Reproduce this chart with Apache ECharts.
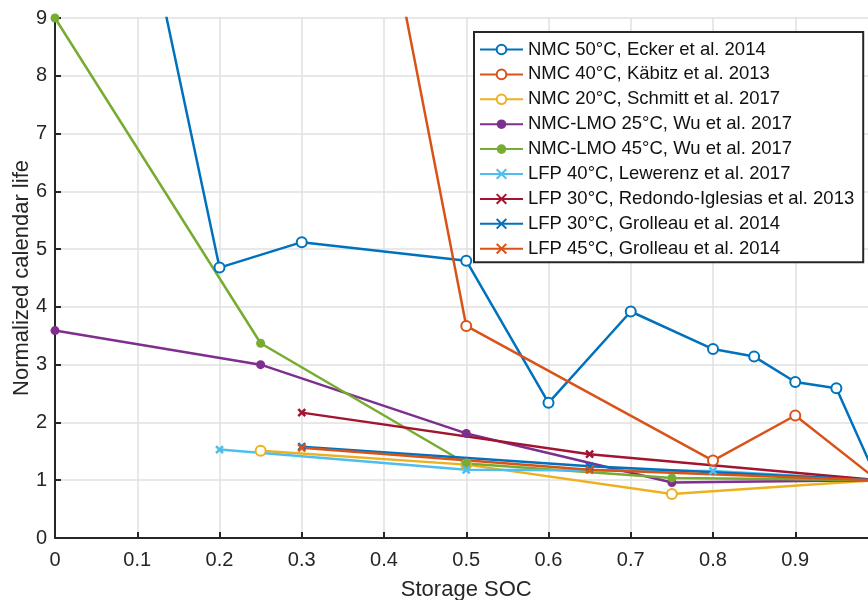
<!DOCTYPE html>
<html>
<head>
<meta charset="utf-8">
<script src="https://cdn.jsdelivr.net/npm/echarts@6/dist/echarts.min.js"></script>
<style>html,body{margin:0;padding:0;background:#fff}#c{width:868px;height:600px}</style>
</head>
<body>
<div id="c"></div>
<script>
// Data
var seriesNames = [
  'NMC 50°C, Ecker et al. 2014',
  'NMC 40°C, Käbitz et al. 2013',
  'NMC 20°C, Schmitt et al. 2017',
  'NMC-LMO 25°C, Wu et al. 2017',
  'NMC-LMO 45°C, Wu et al. 2017',
  'LFP 40°C, Lewerenz et al. 2017',
  'LFP 30°C, Redondo-Iglesias et al. 2013',
  'LFP 30°C, Grolleau et al. 2014',
  'LFP 45°C, Grolleau et al. 2014'
];
var eckerSoc = [0.1, 0.2, 0.3, 0.5, 0.6, 0.7, 0.8, 0.85, 0.9, 0.95, 1.0];
var eckerLife = [11.4, 4.68, 5.12, 4.8, 2.34, 3.92, 3.27, 3.14, 2.70, 2.59, 1.0];
var kabitzSoc = [0.4, 0.5, 0.8, 0.9, 1.0];
var kabitzLife = [11.0, 3.67, 1.34, 2.12, 1.0];
var schmittSoc = [0.25, 0.5, 0.75, 1.0];
var schmittLife = [1.51, 1.27, 0.76, 1.0];
var wu25Soc = [0, 0.25, 0.5, 0.75, 1.0];
var wu25Life = [3.59, 3.0, 1.81, 0.96, 1.0];
var wu45Soc = [0, 0.25, 0.5, 0.75, 1.0];
var wu45Life = [9.0, 3.37, 1.29, 1.04, 1.0];
var lewerenzSoc = [0.2, 0.5, 0.8, 1.0];
var lewerenzLife = [1.53, 1.18, 1.16, 1.0];
var redondoSoc = [0.3, 0.65, 1.0];
var redondoLife = [2.17, 1.45, 1.0];
var grolleau30Soc = [0.3, 0.65, 1.0];
var grolleau30Life = [1.58, 1.24, 1.0];
var grolleau45Soc = [0.3, 0.65, 1.0];
var grolleau45Life = [1.56, 1.18, 1.0];
var xTicks = [0, 0.1, 0.2, 0.3, 0.4, 0.5, 0.6, 0.7, 0.8, 0.9, 1.0];
var yTicks = [0, 1, 2, 3, 4, 5, 6, 7, 8, 9];

var colors = ['#0072BD', '#D95319', '#EDB120', '#7E2F8E', '#77AC30', '#4DBEEE', '#A2142F', '#0072BD', '#D95319'];
var xs = [eckerSoc, kabitzSoc, schmittSoc, wu25Soc, wu45Soc, lewerenzSoc, redondoSoc, grolleau30Soc, grolleau45Soc];
var ys = [eckerLife, kabitzLife, schmittLife, wu25Life, wu45Life, lewerenzLife, redondoLife, grolleau30Life, grolleau45Life];
var kinds = ['o', 'o', 'o', 'f', 'f', 'x', 'x', 'x', 'x'];

function pairs(a, b) { return a.map(function (v, i) { return [v, b[i]]; }); }

var series = seriesNames.map(function (n, i) {
  var k = kinds[i];
  var s = {
    name: n, type: 'line', data: pairs(xs[i], ys[i]),
    lineStyle: { color: colors[i], width: 2.5 },
    color: colors[i],
    clip: true,
    animation: false
  };
  if (k === 'o') {
    s.symbol = 'emptyCircle'; s.symbolSize = 10;
    s.itemStyle = { color: colors[i], borderColor: colors[i], borderWidth: 2 };
  } else if (k === 'f') {
    s.symbol = 'circle'; s.symbolSize = 9;
    s.itemStyle = { color: colors[i] };
  } else {
    s.symbol = 'path://M0,0L10,10M10,0L0,10'; s.symbolSize = 7;
    s.itemStyle = { color: colors[i], borderColor: colors[i], borderWidth: 2.5 };
  }
  return s;
});

var chart = echarts.init(document.getElementById('c'), null, { renderer: 'canvas' });
var txt = '#262626';
chart.setOption({
  backgroundColor: '#fff',
  textStyle: { fontFamily: 'Liberation Sans, Arial, sans-serif' },
  grid: { left: 55, top: 18, width: 822.5, bottom: 62, containLabel: false, outerBoundsMode: 'none' },
  xAxis: {
    type: 'value', min: xTicks[0], max: xTicks[xTicks.length - 1], interval: 0.1,
    name: 'Storage SOC', nameLocation: 'middle', nameGap: 41, nameMoveOverlap: false,
    nameTextStyle: { fontSize: 22, color: txt },
    axisLine: { lineStyle: { color: txt, width: 2 } },
    axisTick: { inside: true, length: 6, lineStyle: { color: txt, width: 2 } },
    axisLabel: { fontSize: 20, color: txt, margin: 12, showMaxLabel: false,
      formatter: function (v) { return String(Math.round(v * 10) / 10); } },
    splitLine: { show: true, lineStyle: { color: '#e0e0e0', width: 1.5 } }
  },
  yAxis: {
    type: 'value', min: yTicks[0], max: yTicks[yTicks.length - 1], interval: 1,
    name: 'Normalized calendar life', nameLocation: 'middle', nameGap: 22, nameMoveOverlap: false,
    nameTextStyle: { fontSize: 22, color: txt },
    axisLine: { show: true, lineStyle: { color: txt, width: 2 } },
    axisTick: { show: true, inside: true, length: 6, lineStyle: { color: txt, width: 2 } },
    axisLabel: { fontSize: 20, color: txt, margin: 8 },
    splitLine: { show: true, lineStyle: { color: '#e0e0e0', width: 1.5 } }
  },
  legend: {
    orient: 'vertical', left: 474, top: 32,
    itemWidth: 43, itemHeight: 12, itemGap: 5.9,
    padding: [8, 9, 4, 5],
    backgroundColor: '#fff', borderColor: txt, borderWidth: 2,
    textStyle: { fontSize: 18.5, color: '#111', padding: [0, 0, 0, 0] },
    data: seriesNames
  },
  series: series
});
</script>
</body>
</html>
